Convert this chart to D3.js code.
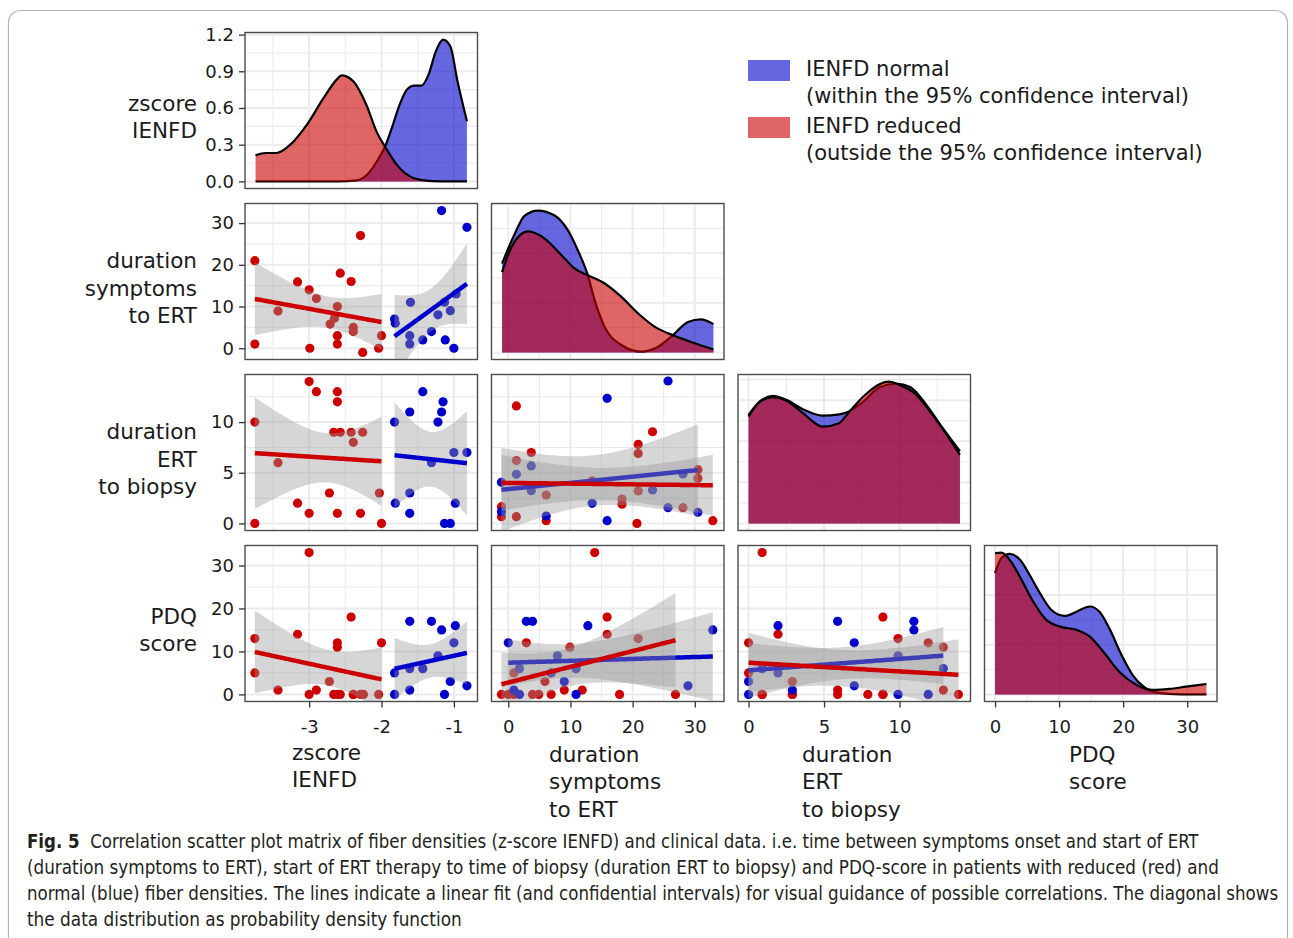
<!DOCTYPE html>
<html><head><meta charset="utf-8">
<script src="https://cdn.jsdelivr.net/npm/d3@7/dist/d3.min.js"></script>
<style>body{margin:0;background:#fff}svg{display:block}</style>
</head><body>
<svg id="chart" width="1293" height="938"></svg>
<script>
// ---------------- DATA ----------------
const groups = ["IENFD normal", "IENFD reduced"];
const varLabels = [["zscore","IENFD"],["duration","symptoms","to ERT"],["duration","ERT","to biopsy"],["PDQ","score"]];
const zRange = [-3.74, -0.82], durSymRange = [-1, 33], durErtRange = [0, 14], pdqRange = [0, 33];
const zTicks = [-3, -2, -1], durSymTicks = [0, 10, 20, 30], durErtTicks = [0, 5, 10], pdqTicks = [0, 10, 20, 30];
const densTicks = [0, 0.3, 0.6, 0.9, 1.2];
const dens22Grid = [0, 0.02, 0.04, 0.06], dens33Grid = [0, 0.025, 0.05, 0.075], dens44Grid = [0, 0.02, 0.04];

// density curves [x, density]
const d11Red = [[-3.74,0.213],[-3.60,0.232],[-3.45,0.232],[-3.26,0.30],[-3.03,0.464],[-2.80,0.682],[-2.62,0.832],[-2.55,0.867],[-2.39,0.818],[-2.21,0.627],[-2.07,0.409],[-1.94,0.273],[-1.79,0.137],[-1.56,0.028],[-1.35,0.005],[-1.1,0.001],[-0.82,0]];
const d11Blue = [[-3.74,0],[-2.6,0],[-2.35,0.008],[-2.2,0.055],[-2.05,0.177],[-1.95,0.286],[-1.85,0.45],[-1.75,0.627],[-1.65,0.75],[-1.55,0.783],[-1.45,0.783],[-1.35,0.873],[-1.25,1.063],[-1.15,1.159],[-1.05,1.104],[-0.95,0.818],[-0.82,0.491]];
const d22Blue = [[-1,0.0358],[1.03,0.0478],[2.64,0.0552],[4.78,0.0572],[7.46,0.0552],[9.6,0.0492],[11.2,0.0411],[12.8,0.0311],[13.9,0.0210],[15.5,0.0103],[18.2,0.0030],[21.4,0.0003],[24.1,0.0023],[26.5,0.0070],[28.9,0.0123],[31.0,0.0133],[33,0.0114]];
const d22Red = [[-1,0.0324],[0.5,0.0424],[3.2,0.0488],[5.9,0.0458],[8.6,0.0391],[10.7,0.0338],[12.8,0.0311],[15.5,0.0278],[18.2,0.0224],[20.9,0.0157],[23.6,0.0103],[26.8,0.0066],[30,0.0037],[33,0.0012]];
const d33Blue = [[0,0.0660],[0.73,0.0741],[1.6,0.0776],[2.5,0.0752],[3.6,0.0695],[4.9,0.0656],[6.0,0.0664],[6.6,0.0680],[7.6,0.0741],[8.7,0.0830],[9.8,0.0850],[10.7,0.0830],[11.8,0.0718],[12.9,0.0575],[14,0.0440]];
const d33Red = [[0,0.0650],[0.73,0.0738],[1.6,0.0768],[2.5,0.0747],[3.6,0.0671],[4.9,0.0589],[6.0,0.0610],[6.6,0.0671],[7.6,0.0772],[8.7,0.0849],[9.3,0.0863],[10.0,0.0843],[11.0,0.0792],[12.1,0.0671],[13.2,0.0528],[14,0.0417]];
const d44Blue = [[0,0.0488],[1.0,0.0549],[2.3,0.0566],[3.9,0.0542],[5.4,0.0481],[7.0,0.0408],[8.8,0.0340],[10.9,0.0316],[12.7,0.0333],[14.8,0.0354],[16.3,0.0333],[17.9,0.0263],[19.5,0.0172],[21.6,0.0074],[23.2,0.0031],[25.3,0.0007],[29,0],[33,0]];
const d44Red = [[0,0.0569],[1.0,0.0571],[2.8,0.0522],[4.4,0.0448],[5.95,0.0374],[8.0,0.0300],[10.1,0.0273],[12.7,0.0260],[14.8,0.0233],[16.9,0.0172],[19.5,0.0088],[22.1,0.0038],[24.6,0.0018],[27.2,0.0022],[29.8,0.0031],[33,0.0042]];

// scatter points [x, y]
const p21Red = [[-3.75,21],[-3.75,1],[-3.43,8.9],[-3.16,15.9],[-3.0,14],[-2.9,11.9],[-2.99,0],[-2.57,18],[-2.61,10],[-2.65,7.2],[-2.71,5.8],[-2.61,3],[-2.61,1],[-2.42,16],[-2.29,27],[-2.39,5],[-2.39,4],[-2.26,-1],[-2.0,3],[-2.04,0]];
const p21Blue = [[-1.17,33],[-0.82,29],[-1.82,7],[-1.81,6],[-1.6,11],[-1.61,3],[-1.61,1],[-1.43,2],[-1.31,4],[-1.22,8],[-1.13,11],[-1.05,9],[-0.97,13],[-1.12,2],[-1.0,0]];
const p31Red = [[-3.75,10],[-3.75,0],[-3.43,6],[-3.16,2],[-3.0,14],[-2.9,13],[-3.0,1],[-2.61,13],[-2.61,12],[-2.66,9],[-2.57,9],[-2.72,3],[-2.61,1],[-2.42,9],[-2.39,8],[-2.26,9],[-2.29,1],[-2.03,3],[-2.0,0]];
const p31Blue = [[-1.43,13],[-1.15,12],[-1.61,11],[-1.17,11],[-1.82,10],[-1.22,10],[-1.0,7],[-0.82,7],[-1.31,6],[-1.61,3],[-1.81,2],[-0.98,2],[-1.61,1],[-1.13,0],[-1.05,0]];
const p41Red = [[-3.0,33],[-3.75,13],[-3.75,5],[-3.43,1],[-3.16,14],[-3.0,0],[-2.9,1],[-2.72,3],[-2.61,12],[-2.61,11],[-2.66,0],[-2.61,0],[-2.57,0],[-2.42,18],[-2.39,0],[-2.29,0],[-2.25,0],[-2.04,0],[-2.0,12],[-2.39,0]];
const p41Blue = [[-1.61,17],[-1.31,17],[-1.17,15],[-0.98,16],[-1.0,12],[-1.22,9],[-1.82,5],[-1.61,6],[-1.43,6],[-1.61,1],[-1.82,0],[-1.13,0],[-1.05,3],[-0.82,2]];
const p32Red = [[1.3,11.6],[3.7,7.0],[1.3,6.2],[6.1,2.8],[-1.1,1.65],[-1.1,0.66],[1.3,0.66],[6.1,0.27],[20.9,7.8],[20.9,6.9],[23.2,9.05],[20.9,3.2],[18.3,2.4],[18.3,1.9],[20.7,0],[28.1,1.55],[30.5,5.3],[30.5,4.45],[32.9,0.27],[13.5,4.2]];
const p32Blue = [[25.7,14.06],[15.9,12.35],[-1.1,4.06],[1.3,4.85],[3.7,5.67],[3.7,3.23],[-1.1,1.16],[6.1,0.73],[13.5,1.98],[15.9,0.27],[23.2,3.3],[25.7,1.55],[28.1,4.88],[30.5,1.1]];
const p42Red = [[13.9,33],[15.9,18],[15.9,14],[20.9,13],[2.9,12],[9.9,11],[0.9,5],[5.9,3],[9.0,1],[11.9,1],[-1.1,0],[0,0],[0.9,0],[3.9,0],[4.9,0],[6.9,0],[17.9,0],[26.9,0]];
const p42Blue = [[2.9,17],[3.9,17],[12.8,16],[32.9,15],[0,12],[7.9,9],[1.8,6],[6.9,5],[10.9,6],[0.9,1],[9.0,3],[28.9,2],[1.8,0],[10.9,0]];
const p43Red = [[0.9,33],[1.95,14],[8.9,18],[9.9,13],[11.9,12],[12.9,11],[0,12],[0,5],[2.9,3],[0.9,0],[2.9,0],[5.9,1],[7.9,0],[8.9,0],[12.9,1],[13.9,0],[0.9,0],[2.9,0],[8.9,0],[5.9,0]];
const p43Blue = [[1.95,16],[5.9,17],[10.95,17],[10.95,15],[7.0,12],[9.9,9],[0.9,6],[1.95,5],[12.9,6],[0,3],[2.9,1],[7.0,2],[0,0],[9.9,0],[11.9,0]];

const captionLines = [
  ["Fig. 5", "  Correlation scatter plot matrix of fiber densities (z-score IENFD) and clinical data. i.e. time between symptoms onset and start of ERT"],
  ["", "(duration symptoms to ERT), start of ERT therapy to time of biopsy (duration ERT to biopsy) and PDQ-score in patients with reduced (red) and"],
  ["", "normal (blue) fiber densities. The lines indicate a linear fit (and confidential intervals) for visual guidance of possible correlations. The diagonal shows"],
  ["", "the data distribution as probability density function"]
];

// ---------------- LAYOUT / STYLE ----------------
const colX = [245, 491.5, 738, 984.5], colW = 232.5;
const rowY = [32.5, 203.5, 374.5, 545.5], rowH = 156;
const RED = "#CC0000", BLUE = "#0000CC";
const AXFONT = "DejaVu Sans, Verdana, sans-serif";

const svg = d3.select("#chart");

// frame
svg.append("rect").attr("x", 8.5).attr("y", 10.5).attr("width", 1279).attr("height", 1000)
  .attr("rx", 12).attr("fill", "none").attr("stroke", "#b3b3b3").attr("stroke-width", 1.2);

const ranges = [zRange, durSymRange, durErtRange, pdqRange];
const ticks = [zTicks, durSymTicks, durErtTicks, pdqTicks];
const expand = r => { const d = r[1] - r[0]; return [r[0] - 0.05 * d, r[1] + 0.05 * d]; };
const xScale = i => d3.scaleLinear().domain(expand(ranges[i])).range([colX[i], colX[i] + colW]);
const yScale = i => d3.scaleLinear().domain(expand(ranges[i])).range([rowY[i] + rowH, rowY[i]]);
function minorBreaks(maj, dom) {
  const s = maj[1] - maj[0];
  const ext = [maj[0] - s, ...maj, maj[maj.length - 1] + s];
  const out = [];
  for (let k = 0; k < ext.length - 1; k++) out.push((ext[k] + ext[k + 1]) / 2);
  return out.filter(v => v >= dom[0] && v <= dom[1]);
}

const defs = svg.append("defs");

function panelFrame(r, c, xs, ys, xMaj, yMaj) {
  const g = svg.append("g");
  defs.append("clipPath").attr("id", `clip${r}${c}`).append("rect")
    .attr("x", colX[c]).attr("y", rowY[r]).attr("width", colW).attr("height", rowH);
  g.append("rect").attr("x", colX[c]).attr("y", rowY[r]).attr("width", colW).attr("height", rowH).attr("fill", "#fff");
  const grid = g.append("g");
  minorBreaks(xMaj, xs.domain()).forEach(v => grid.append("line").attr("x1", xs(v)).attr("x2", xs(v))
    .attr("y1", rowY[r]).attr("y2", rowY[r] + rowH).attr("stroke", "#EBEBEB").attr("stroke-width", 1.1));
  minorBreaks(yMaj, ys.domain()).forEach(v => grid.append("line").attr("y1", ys(v)).attr("y2", ys(v))
    .attr("x1", colX[c]).attr("x2", colX[c] + colW).attr("stroke", "#EBEBEB").attr("stroke-width", 1.1));
  xMaj.filter(v => v >= xs.domain()[0] && v <= xs.domain()[1]).forEach(v => grid.append("line").attr("x1", xs(v)).attr("x2", xs(v))
    .attr("y1", rowY[r]).attr("y2", rowY[r] + rowH).attr("stroke", "#EBEBEB").attr("stroke-width", 2));
  yMaj.filter(v => v >= ys.domain()[0] && v <= ys.domain()[1]).forEach(v => grid.append("line").attr("y1", ys(v)).attr("y2", ys(v))
    .attr("x1", colX[c]).attr("x2", colX[c] + colW).attr("stroke", "#EBEBEB").attr("stroke-width", 2));
  const body = g.append("g").attr("clip-path", `url(#clip${r}${c})`);
  return {g, body};
}
function panelBorder(r, c) {
  svg.append("rect").attr("x", colX[c]).attr("y", rowY[r]).attr("width", colW).attr("height", rowH)
    .attr("fill", "none").attr("stroke", "#4d4d4d").attr("stroke-width", 1.4);
}

// density diagonal
const diag = [
  [d11Blue, d11Red, densTicks],
  [d22Blue, d22Red, dens22Grid],
  [d33Blue, d33Red, dens33Grid],
  [d44Blue, d44Red, dens44Grid]
];
const densYScales = [];
diag.forEach(([db, dr, grid], i) => {
  const xs = xScale(i);
  const M = d3.max([...db, ...dr], d => d[1]);
  const ys = d3.scaleLinear().domain([-0.05 * M, 1.05 * M]).range([rowY[i] + rowH, rowY[i]]);
  densYScales.push(ys);
  const {body} = panelFrame(i, i, xs, ys, ticks[i], grid);
  const area = d3.area().x(d => xs(d[0])).y0(ys(0)).y1(d => ys(d[1])).curve(d3.curveMonotoneX);
  const line = d3.line().x(d => xs(d[0])).y(d => ys(d[1])).curve(d3.curveMonotoneX);
  [[db, BLUE], [dr, RED]].forEach(([d, col]) => {
    body.append("path").attr("d", area(d)).attr("fill", col).attr("fill-opacity", 0.6);
    body.append("path").attr("d", line(d)).attr("fill", "none").attr("stroke", "#000").attr("stroke-width", 2.2);
  });
  panelBorder(i, i);
});

// linear fit with 95% CI
function tq(df) {
  const z = 1.959964;
  const g1 = (z ** 3 + z) / 4, g2 = (5 * z ** 5 + 16 * z ** 3 + 3 * z) / 96,
        g3 = (3 * z ** 7 + 19 * z ** 5 + 17 * z ** 3 - 15 * z) / 384;
  return z + g1 / df + g2 / df ** 2 + g3 / df ** 3;
}
function lmFit(pts) {
  const n = pts.length, mx = d3.mean(pts, d => d[0]), my = d3.mean(pts, d => d[1]);
  const sxx = d3.sum(pts, d => (d[0] - mx) ** 2), sxy = d3.sum(pts, d => (d[0] - mx) * (d[1] - my));
  const b = sxy / sxx, a = my - b * mx;
  const s = Math.sqrt(d3.sum(pts, d => (d[1] - a - b * d[0]) ** 2) / (n - 2));
  const t = tq(n - 2);
  const [x0, x1] = d3.extent(pts, d => d[0]);
  return d3.range(81).map(k => {
    const x = x0 + (x1 - x0) * k / 80, y = a + b * x;
    const se = s * Math.sqrt(1 / n + (x - mx) ** 2 / sxx);
    return {x, y, lo: y - t * se, hi: y + t * se};
  });
}

const scatters = [
  [1, 0, p21Blue, p21Red], [2, 0, p31Blue, p31Red], [3, 0, p41Blue, p41Red],
  [2, 1, p32Blue, p32Red], [3, 1, p42Blue, p42Red], [3, 2, p43Blue, p43Red]
];
scatters.forEach(([r, c, pb, pr]) => {
  const xs = xScale(c), ys = yScale(r);
  const {body} = panelFrame(r, c, xs, ys, ticks[c], ticks[r]);
  body.selectAll(null).data(pr).join("circle").attr("cx", d => xs(d[0])).attr("cy", d => ys(d[1]))
    .attr("r", 4.6).attr("fill", RED);
  body.selectAll(null).data(pb).join("circle").attr("cx", d => xs(d[0])).attr("cy", d => ys(d[1]))
    .attr("r", 4.6).attr("fill", BLUE);
  [[pb, BLUE], [pr, RED]].forEach(([p, col]) => {
    const f = lmFit(p);
    body.append("path").attr("d", d3.area().x(d => xs(d.x)).y0(d => ys(d.lo)).y1(d => ys(d.hi))(f))
      .attr("fill", "#999999").attr("fill-opacity", 0.4);
    body.append("path").attr("d", d3.line().x(d => xs(d.x)).y(d => ys(d.y))(f))
      .attr("fill", "none").attr("stroke", col).attr("stroke-width", 4.5);
  });
  panelBorder(r, c);
});

// axes
function styleAxis(g) {
  g.select(".domain").remove();
  g.selectAll(".tick line").attr("stroke", "#333").attr("stroke-width", 1.3);
  g.selectAll(".tick text").attr("fill", "#1a1a1a").style("font-family", AXFONT).style("font-size", "18px");
}
for (let i = 0; i < 4; i++) {
  const ys = i === 0 ? densYScales[0] : yScale(i);
  const fmt = i === 0 ? d3.format(".1f") : (d => String(d));
  svg.append("g").attr("transform", `translate(${colX[0]},0)`)
    .call(d3.axisLeft(ys).tickValues(i === 0 ? densTicks : ticks[i]).tickFormat(fmt).tickSize(6).tickPadding(5))
    .call(styleAxis);
  const xs = xScale(i);
  svg.append("g").attr("transform", `translate(0,${rowY[3] + rowH})`)
    .call(d3.axisBottom(xs).tickValues(ticks[i]).tickFormat(d => String(d)).tickSize(6).tickPadding(13))
    .call(styleAxis);
}

// variable labels (left, right-aligned)
const LH = 27.8;
varLabels.forEach((lines, i) => {
  const mid = rowY[i] + rowH / 2 + 6.5;
  const t = svg.append("text").attr("text-anchor", "end").attr("fill", "#1a1a1a")
    .style("font-family", AXFONT).style("font-size", "21.5px");
  lines.forEach((s, k) => t.append("tspan").attr("x", 197)
    .attr("y", mid + (k - (lines.length - 1) / 2) * LH).attr("dominant-baseline", "central").text(s));
});
// variable labels (bottom, left-aligned)
const bottomX = [292, 549, 802, 1069], bottomY = [752, 754, 754, 754];
varLabels.forEach((lines, i) => {
  const t = svg.append("text").attr("fill", "#1a1a1a").style("font-family", AXFONT).style("font-size", "21.5px");
  lines.forEach((s, k) => t.append("tspan").attr("x", bottomX[i]).attr("y", bottomY[i] + k * LH)
    .attr("dominant-baseline", "central").text(s));
});

// legend
const legendSub = ["(within the 95% confidence interval)", "(outside the 95% confidence interval)"];
[[BLUE, 0], [RED, 1]].forEach(([col, k]) => {
  const y0 = 60 + k * 57;
  svg.append("rect").attr("x", 748).attr("y", y0).attr("width", 42).attr("height", 21)
    .attr("fill", col).attr("fill-opacity", 0.6);
  svg.append("text").attr("x", 806).attr("y", y0 + 9).attr("dominant-baseline", "central")
    .attr("fill", "#1a1a1a").style("font-family", AXFONT).style("font-size", "21px").text(groups[k]);
  svg.append("text").attr("x", 806).attr("y", y0 + 35.5).attr("dominant-baseline", "central")
    .attr("fill", "#1a1a1a").style("font-family", AXFONT).style("font-size", "21px").text(legendSub[k]);
});

// caption (horizontally scaled to the reference line widths)
const capEnds = [1199, 1220, 1279, 462];
captionLines.forEach(([b, rest], k) => {
  const y = 841 + k * 26;
  const t = svg.append("text").attr("x", 0).attr("y", 0).attr("dominant-baseline", "central")
    .attr("transform", `translate(27,${y})`)
    .attr("fill", "#231F20").style("font-family", "'Liberation Sans Narrow','DejaVu Sans Condensed','Liberation Sans',sans-serif")
    .style("font-size", "19px").style("white-space", "pre");
  if (b) t.append("tspan").style("font-weight", "bold").text(b);
  t.append("tspan").text(rest);
  const w = t.node().getComputedTextLength();
  t.attr("transform", `translate(27,${y}) scale(${(capEnds[k] - 27) / w},1)`);
});
</script>
</body></html>
